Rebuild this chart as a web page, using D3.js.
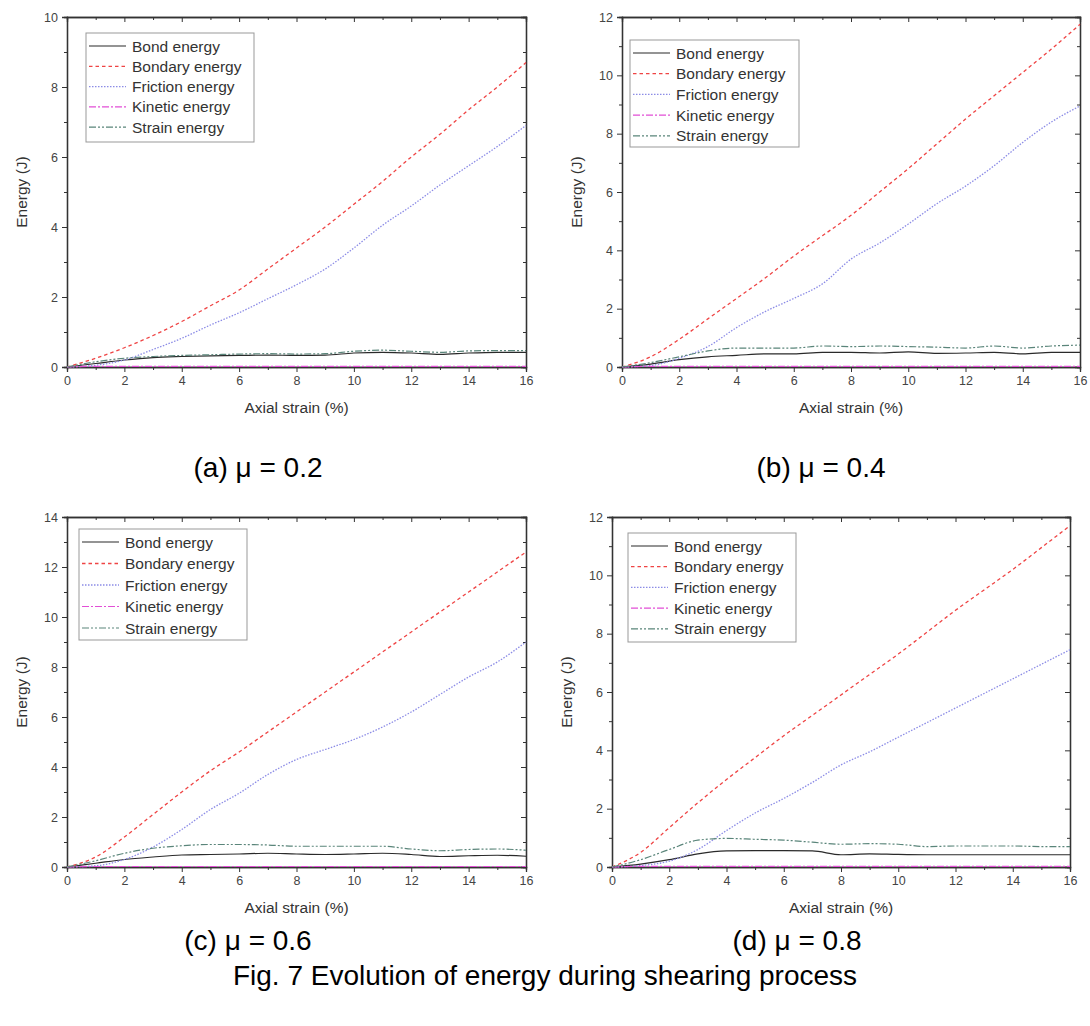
<!DOCTYPE html>
<html>
<head>
<meta charset="utf-8">
<script src="https://cdn.jsdelivr.net/npm/d3@7/dist/d3.min.js"></script>
<style>
  body { margin: 0; background: #fff; }
  svg { font-family: "Liberation Sans", Arial, sans-serif; }
</style>
</head>
<body>
<svg id="fig" width="1090" height="1026"></svg>
<script>
// axial strain (%) sample points, shared by every panel
const strainPct = [0, 1, 2, 3, 4, 5, 6, 7, 8, 9, 10, 11, 12, 13, 14, 15, 16];
const seriesNames = ["Bond energy", "Bondary energy", "Friction energy", "Kinetic energy", "Strain energy"];

// (a) mu = 0.2
const bondA     = [0, 0.1, 0.2, 0.27, 0.3, 0.32, 0.33, 0.34, 0.33, 0.34, 0.4, 0.42, 0.4, 0.36, 0.4, 0.42, 0.42];
const boundaryA = [0, 0.25, 0.55, 0.9, 1.3, 1.75, 2.2, 2.8, 3.4, 4.0, 4.65, 5.3, 6.0, 6.65, 7.35, 8.0, 8.7];
const frictionA = [0, 0.05, 0.2, 0.5, 0.82, 1.2, 1.55, 1.95, 2.35, 2.8, 3.4, 4.05, 4.6, 5.2, 5.75, 6.3, 6.9];
const kineticA  = [0, 0.02, 0.02, 0.02, 0.02, 0.02, 0.02, 0.02, 0.02, 0.02, 0.02, 0.02, 0.02, 0.02, 0.02, 0.02, 0.02];
const strainA   = [0, 0.15, 0.25, 0.3, 0.33, 0.35, 0.37, 0.38, 0.37, 0.38, 0.45, 0.48, 0.45, 0.42, 0.46, 0.47, 0.47];

// (b) mu = 0.4
const bondB     = [0, 0.1, 0.25, 0.35, 0.4, 0.45, 0.45, 0.5, 0.5, 0.48, 0.52, 0.47, 0.48, 0.5, 0.45, 0.5, 0.5];
const boundaryB = [0, 0.35, 0.95, 1.65, 2.35, 3.05, 3.8, 4.5, 5.2, 6.0, 6.8, 7.65, 8.5, 9.3, 10.1, 10.9, 11.75];
const frictionB = [0, 0.05, 0.3, 0.7, 1.35, 1.9, 2.35, 2.85, 3.7, 4.25, 4.9, 5.6, 6.2, 6.9, 7.7, 8.4, 8.95];
const kineticB  = [0, 0.02, 0.02, 0.02, 0.02, 0.02, 0.02, 0.02, 0.02, 0.02, 0.02, 0.02, 0.02, 0.02, 0.02, 0.02, 0.02];
const strainB   = [0, 0.15, 0.35, 0.55, 0.65, 0.65, 0.65, 0.72, 0.7, 0.72, 0.7, 0.68, 0.65, 0.72, 0.65, 0.72, 0.75];

// (c) mu = 0.6
const bondC     = [0, 0.15, 0.3, 0.4, 0.48, 0.5, 0.52, 0.55, 0.52, 0.5, 0.52, 0.55, 0.5, 0.42, 0.45, 0.47, 0.43];
const boundaryC = [0, 0.4, 1.2, 2.1, 3.0, 3.85, 4.6, 5.4, 6.2, 7.0, 7.8, 8.6, 9.4, 10.2, 11.0, 11.8, 12.6];
const frictionC = [0, 0.05, 0.3, 0.8, 1.5, 2.3, 2.95, 3.7, 4.3, 4.7, 5.1, 5.6, 6.2, 6.9, 7.6, 8.2, 9.0];
const kineticC  = [0, 0.02, 0.02, 0.02, 0.02, 0.02, 0.02, 0.02, 0.02, 0.02, 0.02, 0.02, 0.02, 0.02, 0.02, 0.02, 0.02];
const strainC   = [0, 0.25, 0.55, 0.75, 0.85, 0.9, 0.9, 0.88, 0.83, 0.83, 0.83, 0.83, 0.72, 0.65, 0.7, 0.72, 0.67];

// (d) mu = 0.8
const bondD     = [0, 0.1, 0.25, 0.45, 0.55, 0.56, 0.56, 0.55, 0.42, 0.45, 0.43, 0.42, 0.42, 0.42, 0.42, 0.42, 0.42];
const boundaryD = [0, 0.5, 1.35, 2.2, 3.0, 3.75, 4.5, 5.2, 5.9, 6.6, 7.3, 8.05, 8.8, 9.5, 10.2, 10.95, 11.7];
const frictionD = [0, 0.05, 0.2, 0.6, 1.25, 1.85, 2.35, 2.9, 3.5, 3.95, 4.45, 4.95, 5.45, 5.95, 6.45, 6.95, 7.45];
const kineticD  = [0, 0.02, 0.02, 0.02, 0.02, 0.02, 0.02, 0.02, 0.02, 0.02, 0.02, 0.02, 0.02, 0.02, 0.02, 0.02, 0.02];
const strainD   = [0, 0.25, 0.6, 0.92, 0.98, 0.95, 0.92, 0.85, 0.78, 0.8, 0.78, 0.7, 0.72, 0.72, 0.72, 0.7, 0.7];

const panelCaptions = ["(a) μ = 0.2", "(b) μ = 0.4", "(c) μ = 0.6", "(d) μ = 0.8"];
const yMaxes = [10, 12, 14, 12];
const xTicks = [0, 2, 4, 6, 8, 10, 12, 14, 16];
const figCaption = "Fig. 7 Evolution of energy during shearing process";

const panelData = [
  [bondA, boundaryA, frictionA, kineticA, strainA],
  [bondB, boundaryB, frictionB, kineticB, strainB],
  [bondC, boundaryC, frictionC, kineticC, strainC],
  [bondD, boundaryD, frictionD, kineticD, strainD]
];

// line styles, same order as seriesNames
const lineStyles = [
  { color: "#2a2a2a", dash: null,          width: 1.2 },
  { color: "#ef4444", dash: "3.5,3",       width: 1.3 },
  { color: "#8c8ce6", dash: "1.5,1.5",     width: 1.3 },
  { color: "#e24fd6", dash: "7,2,2,2",     width: 1.2 },
  { color: "#5a857a", dash: "7,2,2,2,2,2", width: 1.2 }
];

// frame of each panel + legend box + caption spot
const layout = [
  { left: 67,  right: 526,  top: 17,  bottom: 367, leg: { x: 86,  y: 33,  w: 168, h: 109, row: 20.3 }, cap: [258, 477] },
  { left: 622, right: 1080, top: 17,  bottom: 367, leg: { x: 630, y: 40,  w: 169, h: 107, row: 20.7 }, cap: [821, 477] },
  { left: 67,  right: 526,  top: 517, bottom: 867, leg: { x: 79,  y: 529, w: 168, h: 111, row: 21.5 }, cap: [248, 950] },
  { left: 612, right: 1070, top: 517, bottom: 867, leg: { x: 628, y: 533, w: 168, h: 109, row: 20.7 }, cap: [797, 950] }
];

const svg = d3.select("#fig");
const axisColor = "#333";

layout.forEach((L, p) => {
  const x = d3.scaleLinear().domain([0, 16]).range([L.left, L.right]);
  const y = d3.scaleLinear().domain([0, yMaxes[p]]).range([L.bottom, L.top]);
  const g = svg.append("g");

  const yMajor = d3.range(0, yMaxes[p] + 0.1, 2);
  const yMinor = d3.range(1, yMaxes[p], 2);
  const xMinor = d3.range(1, 16, 2);

  // bottom + left axes with labels
  const bx = d3.axisBottom(x).tickValues(xTicks).tickSize(5).tickPadding(4).tickFormat(d3.format("d"));
  const lx = d3.axisLeft(y).tickValues(yMajor).tickSize(5).tickPadding(4).tickFormat(d3.format("d"));
  g.append("g").attr("transform", `translate(0,${L.bottom})`).call(bx);
  g.append("g").attr("transform", `translate(${L.left},0)`).call(lx);
  g.append("g").attr("transform", `translate(0,${L.bottom})`)
    .call(d3.axisBottom(x).tickValues(xMinor).tickSize(3).tickFormat(""));
  g.append("g").attr("transform", `translate(${L.left},0)`)
    .call(d3.axisLeft(y).tickValues(yMinor).tickSize(3).tickFormat(""));
  // mirrored ticks on top + right, pointing in
  g.append("g").attr("transform", `translate(0,${L.top})`)
    .call(d3.axisBottom(x).tickValues(xTicks).tickSize(5).tickFormat(""));
  g.append("g").attr("transform", `translate(0,${L.top})`)
    .call(d3.axisBottom(x).tickValues(xMinor).tickSize(3).tickFormat(""));
  g.append("g").attr("transform", `translate(${L.right},0)`)
    .call(d3.axisLeft(y).tickValues(yMajor).tickSize(5).tickFormat(""));
  g.append("g").attr("transform", `translate(${L.right},0)`)
    .call(d3.axisLeft(y).tickValues(yMinor).tickSize(3).tickFormat(""));

  g.selectAll(".domain").attr("stroke", axisColor).attr("stroke-width", 1.3);
  g.selectAll(".tick line").attr("stroke", axisColor).attr("stroke-width", 1);
  g.selectAll(".tick text").attr("fill", "#444").style("font-size", "12.5px");

  // axis titles
  g.append("text")
    .attr("x", (L.left + L.right) / 2).attr("y", L.bottom + 46)
    .attr("text-anchor", "middle").attr("fill", "#333").style("font-size", "15.5px")
    .text("Axial strain (%)");
  g.append("text")
    .attr("transform", `translate(${L.left - 40},${(L.top + L.bottom) / 2}) rotate(-90)`)
    .attr("text-anchor", "middle").attr("fill", "#333").style("font-size", "15.5px")
    .text("Energy (J)");

  // curves
  const line = d3.line().x((d, i) => x(strainPct[i])).y(d => y(d)).curve(d3.curveMonotoneX);
  panelData[p].forEach((vals, s) => {
    const st = lineStyles[s];
    g.append("path").datum(vals)
      .attr("d", line)
      .attr("fill", "none")
      .attr("stroke", st.color)
      .attr("stroke-width", st.width)
      .attr("stroke-dasharray", st.dash);
  });

  // legend
  const lg = g.append("g").attr("transform", `translate(${L.leg.x},${L.leg.y})`);
  lg.append("rect").attr("width", L.leg.w).attr("height", L.leg.h)
    .attr("fill", "#fff").attr("stroke", "#999").attr("stroke-width", 1);
  seriesNames.forEach((name, s) => {
    const yy = 13 + s * L.leg.row;
    const st = lineStyles[s];
    lg.append("line").attr("x1", 3).attr("x2", 40).attr("y1", yy).attr("y2", yy)
      .attr("stroke", st.color).attr("stroke-width", st.width).attr("stroke-dasharray", st.dash);
    lg.append("text").attr("x", 46).attr("y", yy + 5.5)
      .attr("fill", "#333").style("font-size", "15.5px").text(name);
  });

  // panel caption
  svg.append("text").attr("x", L.cap[0]).attr("y", L.cap[1])
    .attr("text-anchor", "middle").attr("fill", "#000").style("font-size", "28px")
    .text(panelCaptions[p]);
});

svg.append("text").attr("x", 545).attr("y", 985)
  .attr("text-anchor", "middle").attr("fill", "#000").style("font-size", "28px")
  .text(figCaption);
</script>
</body>
</html>
